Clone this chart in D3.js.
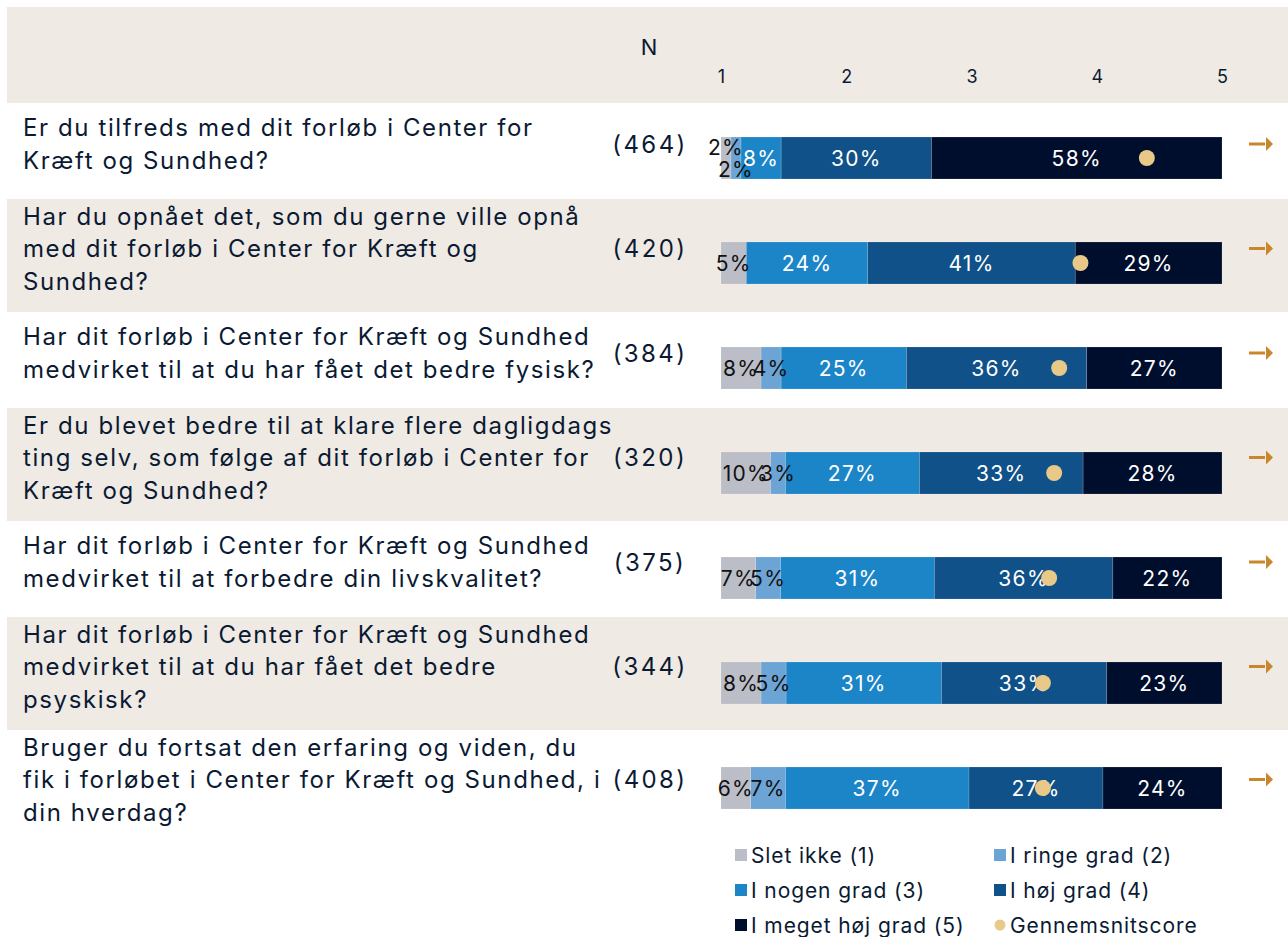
<!DOCTYPE html>
<html>
<head>
<meta charset="utf-8">
<script src="https://cdn.jsdelivr.net/npm/d3@7"></script>
<style>
  body { margin: 0; background: #fff; }
  text { font-family: Inter, "Noto Sans", sans-serif; fill: #0b1a33; }
</style>
</head>
<body>
<div id="chart"></div>
<script>
// question texts, already broken into lines like the original
var questions = [
  ["Er du tilfreds med dit forløb i Center for", "Kræft og Sundhed?"],
  ["Har du opnået det, som du gerne ville opnå", "med dit forløb i Center for Kræft og", "Sundhed?"],
  ["Har dit forløb i Center for Kræft og Sundhed", "medvirket til at du har fået det bedre fysisk?"],
  ["Er du blevet bedre til at klare flere dagligdags", "ting selv, som følge af dit forløb i Center for", "Kræft og Sundhed?"],
  ["Har dit forløb i Center for Kræft og Sundhed", "medvirket til at forbedre din livskvalitet?"],
  ["Har dit forløb i Center for Kræft og Sundhed", "medvirket til at du har fået det bedre", "psyskisk?"],
  ["Bruger du fortsat den erfaring og viden, du", "fik i forløbet i Center for Kræft og Sundhed, i", "din hverdag?"]
];
var nValues = [464, 420, 384, 320, 375, 344, 408];

var categories = ["Slet ikke (1)", "I ringe grad (2)", "I nogen grad (3)", "I høj grad (4)", "I meget høj grad (5)"];
var sletIkke    = [2, 5, 8, 10, 7, 8, 6];
var ringeGrad   = [2, 0, 4, 3, 5, 5, 7];
var nogenGrad   = [8, 24, 25, 27, 31, 31, 37];
var hoejGrad    = [30, 41, 36, 33, 36, 33, 27];
var megetHoej   = [58, 29, 27, 28, 22, 23, 24];
var meanScore   = [4.40, 3.87, 3.70, 3.66, 3.62, 3.57, 3.57];
var scoreTicks  = [1, 2, 3, 4, 5];

var colors = ["#bbbdc7", "#6ca4d6", "#1c85c8", "#0f5188", "#000e2e"];
var labelColors = ["#111", "#111", "#fff", "#fff", "#fff"];
var dotColor = "#e9c987";
var beige = "#efeae3";

var width = 1288, height = 937;
var svg = d3.select("#chart").append("svg")
  .attr("width", width).attr("height", height);

// header band
svg.append("rect").attr("x", 7).attr("y", 7).attr("width", width - 7).attr("height", 96).attr("fill", beige);

var xShare = d3.scaleLinear().domain([0, 1]).range([721, 1222]);
var xScore = d3.scaleLinear().domain([1, 5]).range([721, 1222]);
var yBar = d3.scalePoint().domain(d3.range(questions.length)).range([158, 788]);
var barH = 42;

// row bands, height depends on line count
var rows = [];
var rowTop = 103;
questions.forEach(function(q, i) {
  var h = q.length > 2 ? 113 : 96;
  rows.push({ i: i, top: rowTop, h: h, lines: q, textMid: rowTop + h / 2 - 7 });
  rowTop += h;
});

svg.selectAll("rect.band")
  .data(rows.filter(function(r) { return r.i % 2 == 1; }))
  .enter().append("rect")
  .attr("class", "band")
  .attr("x", 7).attr("y", function(r) { return r.top; })
  .attr("width", width - 7).attr("height", function(r) { return r.h; })
  .attr("fill", beige);

// header texts
svg.append("text").attr("x", 649).attr("y", 47).attr("text-anchor", "middle")
  .attr("dominant-baseline", "central").style("font-size", "22px").text("N");

var axis = d3.axisTop(xScore).tickValues(scoreTicks).tickSize(0).tickFormat(d3.format("d"));
var ax = svg.append("g").attr("transform", "translate(0,86)").call(axis);
ax.select(".domain").remove();
ax.selectAll("text").style("font-size", "18px").attr("fill", "#0b1a33")
  .style("font-family", "Inter, 'Noto Sans', sans-serif");

// question text
var lineGap = 32.5;
rows.forEach(function(r) {
  var t = svg.append("text").attr("x", 23).style("font-size", "24px").style("letter-spacing", "1.6px");
  r.lines.forEach(function(l, k) {
    t.append("tspan").attr("x", 23)
      .attr("y", r.textMid + (k - (r.lines.length - 1) / 2) * lineGap)
      .attr("dominant-baseline", "central")
      .text(l);
  });
  svg.append("text").attr("x", 650).attr("y", r.textMid)
    .attr("text-anchor", "middle").attr("dominant-baseline", "central")
    .style("font-size", "24px").style("letter-spacing", "2.4px")
    .text("(" + nValues[r.i] + ")");

  // arrow
  var ay = r.textMid;
  svg.append("line").attr("x1", 1249).attr("x2", 1265).attr("y1", ay).attr("y2", ay)
    .attr("stroke", "#c8872c").attr("stroke-width", 3);
  svg.append("path").attr("d", "M1266," + (ay - 7) + "L1273," + ay + "L1266," + (ay + 7) + "Z")
    .attr("fill", "#c8872c");
});

// stacked bars
var series = [sletIkke, ringeGrad, nogenGrad, hoejGrad, megetHoej];
questions.forEach(function(q, i) {
  var vals = series.map(function(s) { return s[i]; });
  var total = d3.sum(vals);
  var cum = 0;
  var segs = vals.map(function(v, k) {
    var s = { k: k, v: v, x0: cum / total, x1: (cum + v) / total };
    cum += v;
    return s;
  });
  var g = svg.append("g");
  var cy = yBar(i);
  g.selectAll("rect").data(segs.filter(function(s) { return s.v > 0; }))
    .enter().append("rect")
    .attr("x", function(s) { return xShare(s.x0); })
    .attr("width", function(s) { return xShare(s.x1) - xShare(s.x0); })
    .attr("y", cy - barH / 2).attr("height", barH)
    .attr("fill", function(s) { return colors[s.k]; })
    .attr("stroke", "rgba(255,255,255,0.25)").attr("stroke-width", 0.6);

  g.selectAll("text").data(segs.filter(function(s) { return s.v >= 2; }))
    .enter().append("text")
    .attr("x", function(s) { return (xShare(s.x0) + xShare(s.x1)) / 2; })
    .attr("y", function(s) {
      if (s.v < 3) return cy + (s.k % 2 == 0 ? -11 : 11);
      return cy;
    })
    .attr("text-anchor", "middle").attr("dominant-baseline", "central")
    .style("font-size", "21px").style("letter-spacing", "1.3px")
    .style("fill", function(s) { return labelColors[s.k]; })
    .text(function(s) { return s.v + "%"; });

  g.append("circle").attr("cx", xScore(meanScore[i])).attr("cy", cy).attr("r", 8).attr("fill", dotColor);
});

// legend
var legendItems = categories.map(function(c, k) { return { name: c, color: colors[k], dot: false }; });
legendItems.push({ name: "Gennemsnitscore", color: dotColor, dot: true });
var lg = svg.selectAll("g.legend").data(legendItems).enter().append("g")
  .attr("class", "legend")
  .attr("transform", function(d, k) {
    return "translate(" + (k % 2 == 0 ? 735 : 994) + "," + (855 + Math.floor(k / 2) * 35) + ")";
  });
lg.each(function(d) {
  var e = d3.select(this);
  if (d.dot) {
    e.append("circle").attr("cx", 6).attr("cy", 0).attr("r", 5.5).attr("fill", d.color);
  } else {
    e.append("rect").attr("x", 0).attr("y", -6).attr("width", 12).attr("height", 12).attr("fill", d.color);
  }
});
lg.append("text").attr("x", 16).attr("y", 0).attr("dominant-baseline", "central")
  .style("font-size", "21px").style("letter-spacing", "0.9px").text(function(d) { return d.name; });
</script>
</body>
</html>
